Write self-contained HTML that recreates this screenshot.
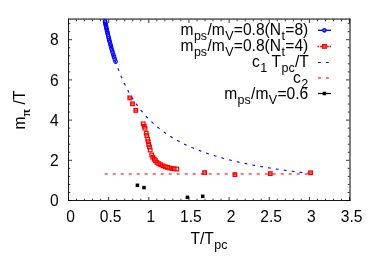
<!DOCTYPE html>
<html><head><meta charset="utf-8"><style>
html,body{margin:0;padding:0;background:#fff;}
svg{display:block;font-family:"Liberation Sans",sans-serif;}
svg{will-change:transform;}
</style></head><body>
<svg width="382" height="267" viewBox="0 0 382 267">
<rect width="382" height="267" fill="#fff"/>

<path d="M68.50 200.5v-3.5M68.50 19.5v3.5M76.53 200.5v-1.8M76.53 19.5v1.8M84.56 200.5v-1.8M84.56 19.5v1.8M92.59 200.5v-1.8M92.59 19.5v1.8M100.62 200.5v-1.8M100.62 19.5v1.8M108.65 200.5v-3.5M108.65 19.5v3.5M116.68 200.5v-1.8M116.68 19.5v1.8M124.71 200.5v-1.8M124.71 19.5v1.8M132.74 200.5v-1.8M132.74 19.5v1.8M140.77 200.5v-1.8M140.77 19.5v1.8M148.80 200.5v-3.5M148.80 19.5v3.5M156.83 200.5v-1.8M156.83 19.5v1.8M164.86 200.5v-1.8M164.86 19.5v1.8M172.89 200.5v-1.8M172.89 19.5v1.8M180.92 200.5v-1.8M180.92 19.5v1.8M188.95 200.5v-3.5M188.95 19.5v3.5M196.98 200.5v-1.8M196.98 19.5v1.8M205.01 200.5v-1.8M205.01 19.5v1.8M213.04 200.5v-1.8M213.04 19.5v1.8M221.07 200.5v-1.8M221.07 19.5v1.8M229.10 200.5v-3.5M229.10 19.5v3.5M237.13 200.5v-1.8M237.13 19.5v1.8M245.16 200.5v-1.8M245.16 19.5v1.8M253.19 200.5v-1.8M253.19 19.5v1.8M261.22 200.5v-1.8M261.22 19.5v1.8M269.25 200.5v-3.5M269.25 19.5v3.5M277.28 200.5v-1.8M277.28 19.5v1.8M285.31 200.5v-1.8M285.31 19.5v1.8M293.34 200.5v-1.8M293.34 19.5v1.8M301.37 200.5v-1.8M301.37 19.5v1.8M309.40 200.5v-3.5M309.40 19.5v3.5M317.43 200.5v-1.8M317.43 19.5v1.8M325.46 200.5v-1.8M325.46 19.5v1.8M333.49 200.5v-1.8M333.49 19.5v1.8M341.52 200.5v-1.8M341.52 19.5v1.8M349.55 200.5v-3.5M349.55 19.5v3.5M68.5 200.50h3.5M349.5 200.50h-3.5M68.5 192.46h1.8M349.5 192.46h-1.8M68.5 184.42h1.8M349.5 184.42h-1.8M68.5 176.38h1.8M349.5 176.38h-1.8M68.5 168.34h1.8M349.5 168.34h-1.8M68.5 160.30h3.5M349.5 160.30h-3.5M68.5 152.26h1.8M349.5 152.26h-1.8M68.5 144.22h1.8M349.5 144.22h-1.8M68.5 136.18h1.8M349.5 136.18h-1.8M68.5 128.14h1.8M349.5 128.14h-1.8M68.5 120.10h3.5M349.5 120.10h-3.5M68.5 112.06h1.8M349.5 112.06h-1.8M68.5 104.02h1.8M349.5 104.02h-1.8M68.5 95.98h1.8M349.5 95.98h-1.8M68.5 87.94h1.8M349.5 87.94h-1.8M68.5 79.90h3.5M349.5 79.90h-3.5M68.5 71.86h1.8M349.5 71.86h-1.8M68.5 63.82h1.8M349.5 63.82h-1.8M68.5 55.78h1.8M349.5 55.78h-1.8M68.5 47.74h1.8M349.5 47.74h-1.8M68.5 39.70h3.5M349.5 39.70h-3.5M68.5 31.66h1.8M349.5 31.66h-1.8M68.5 23.62h1.8M349.5 23.62h-1.8" stroke="#000" stroke-width="0.8" fill="none"/>
<path d="M68.5 18.6V200.5M68.0 200.5H350.4" stroke="#000" stroke-width="0.9" fill="none"/>
<path d="M68.0 19.05H350.5M350.0 18.6V201.0" stroke="#000" stroke-width="1.0" fill="none"/>
<text x="70.5" y="222" font-size="15.6" text-anchor="middle">0</text>
<text x="110.7" y="222" font-size="15.6" text-anchor="middle">0.5</text>
<text x="150.8" y="222" font-size="15.6" text-anchor="middle">1</text>
<text x="190.9" y="222" font-size="15.6" text-anchor="middle">1.5</text>
<text x="231.1" y="222" font-size="15.6" text-anchor="middle">2</text>
<text x="271.2" y="222" font-size="15.6" text-anchor="middle">2.5</text>
<text x="311.4" y="222" font-size="15.6" text-anchor="middle">3</text>
<text x="351.6" y="222" font-size="15.6" text-anchor="middle">3.5</text>
<text x="58.8" y="206.1" font-size="15.6" text-anchor="end">0</text>
<text x="58.8" y="165.9" font-size="15.6" text-anchor="end">2</text>
<text x="58.8" y="125.7" font-size="15.6" text-anchor="end">4</text>
<text x="58.8" y="85.5" font-size="15.6" text-anchor="end">6</text>
<text x="58.8" y="45.3" font-size="15.6" text-anchor="end">8</text>
<text x="209" y="243.5" font-size="15.6" text-anchor="middle">T/T<tspan font-size="12.5" dy="5.0" dx="0.45">pc</tspan></text>
<text transform="translate(25.3,110) rotate(-90)" font-size="15.6" text-anchor="middle">m<tspan font-size="13.5" dy="5.0" font-family="Liberation Serif" font-weight="bold">π</tspan><tspan dy="-5.0" dx="0.3"> /T</tspan></text>
<polyline points="104.63,19.60 105.15,22.13 105.66,24.58 106.17,26.97 106.68,29.30 107.19,31.57 107.71,33.77 108.22,35.92 108.73,38.01 109.24,40.06 109.75,42.05 110.27,43.99 110.78,45.88 111.29,47.73 111.80,49.54 112.31,51.30 112.83,53.03 113.34,54.71 113.85,56.36 114.36,57.97 114.87,59.54 115.39,61.08 115.90,62.58 116.41,64.06 116.92,65.50 117.43,66.91 117.94,68.30 118.46,69.65 118.97,70.98 119.48,72.28 119.99,73.55 120.50,74.80 121.02,76.03 121.53,77.23 122.04,78.41 122.55,79.56 123.06,80.70 123.58,81.81 124.09,82.91 124.60,83.98 125.11,85.03 125.62,86.07 126.14,87.08 126.65,88.08 127.16,89.06 127.67,90.03 128.18,90.97 128.69,91.91 129.21,92.82 129.72,93.72 130.23,94.61 130.74,95.48 131.25,96.33 131.77,97.18 132.28,98.01 132.79,98.82 133.30,99.63 133.81,100.42 134.33,101.20 134.84,101.96 135.35,102.72 135.86,103.46 136.37,104.19 136.89,104.91 137.40,105.62 137.91,106.32 138.42,107.01 138.93,107.69 139.45,108.36 139.96,109.02 140.47,109.67 140.98,110.31 141.49,110.95 142.00,111.57 142.52,112.18 143.03,112.79 143.54,113.39 144.05,113.98 144.56,114.56 145.08,115.14 145.59,115.70 146.10,116.26 146.61,116.81 147.12,117.36 147.64,117.90 148.15,118.43 148.66,118.95 149.17,119.47 149.68,119.98 150.20,120.49 150.71,120.98 151.22,121.48 151.73,121.96 152.24,122.44 152.75,122.92 153.27,123.38 153.78,123.85 154.29,124.30 154.80,124.76 155.31,125.20 155.83,125.64 156.34,126.08 156.85,126.51 157.36,126.94 157.87,127.36 158.39,127.78 158.90,128.19 159.41,128.60 159.92,129.00 160.43,129.40 160.95,129.79 161.46,130.18 161.97,130.56 162.48,130.95 162.99,131.32 163.50,131.69 164.02,132.06 164.53,132.43 165.04,132.79 165.55,133.15 166.06,133.50 166.58,133.85 167.09,134.20 167.60,134.54 168.11,134.88 168.62,135.21 169.14,135.54 169.65,135.87 170.16,136.20 170.67,136.52 171.18,136.84 171.70,137.16 172.21,137.47 172.72,137.78 173.23,138.08 173.74,138.39 174.26,138.69 174.77,138.99 175.28,139.28 175.79,139.57 176.30,139.86 176.81,140.15 177.33,140.43 177.84,140.71 178.35,140.99 178.86,141.27 179.37,141.54 179.89,141.81 180.40,142.08 180.91,142.35 181.42,142.61 181.93,142.87 182.45,143.13 182.96,143.39 183.47,143.64 183.98,143.90 184.49,144.14 185.01,144.39 185.52,144.64 186.03,144.88 186.54,145.12 187.05,145.36 187.56,145.60 188.08,145.83 188.59,146.07 189.10,146.30 189.61,146.53 190.12,146.75 190.64,146.98 191.15,147.20 191.66,147.42 192.17,147.64 192.68,147.86 193.20,148.08 193.71,148.29 194.22,148.50 194.73,148.72 195.24,148.92 195.76,149.13 196.27,149.34 196.78,149.54 197.29,149.74 197.80,149.95 198.31,150.15 198.83,150.34 199.34,150.54 199.85,150.73 200.36,150.93 200.87,151.12 201.39,151.31 201.90,151.50 202.41,151.69 202.92,151.87 203.43,152.06 203.95,152.24 204.46,152.42 204.97,152.60 205.48,152.78 205.99,152.96 206.51,153.13 207.02,153.31 207.53,153.48 208.04,153.65 208.55,153.83 209.07,154.00 209.58,154.16 210.09,154.33 210.60,154.50 211.11,154.66 211.62,154.83 212.14,154.99 212.65,155.15 213.16,155.31 213.67,155.47 214.18,155.63 214.70,155.79 215.21,155.94 215.72,156.10 216.23,156.25 216.74,156.40 217.26,156.56 217.77,156.71 218.28,156.86 218.79,157.01 219.30,157.15 219.82,157.30 220.33,157.45 220.84,157.59 221.35,157.73 221.86,157.88 222.37,158.02 222.89,158.16 223.40,158.30 223.91,158.44 224.42,158.58 224.93,158.71 225.45,158.85 225.96,158.99 226.47,159.12 226.98,159.25 227.49,159.39 228.01,159.52 228.52,159.65 229.03,159.78 229.54,159.91 230.05,160.04 230.57,160.17 231.08,160.29 231.59,160.42 232.10,160.54 232.61,160.67 233.13,160.79 233.64,160.92 234.15,161.04 234.66,161.16 235.17,161.28 235.68,161.40 236.20,161.52 236.71,161.64 237.22,161.76 237.73,161.87 238.24,161.99 238.76,162.11 239.27,162.22 239.78,162.34 240.29,162.45 240.80,162.56 241.32,162.67 241.83,162.79 242.34,162.90 242.85,163.01 243.36,163.12 243.88,163.23 244.39,163.34 244.90,163.44 245.41,163.55 245.92,163.66 246.43,163.76 246.95,163.87 247.46,163.97 247.97,164.08 248.48,164.18 248.99,164.28 249.51,164.39 250.02,164.49 250.53,164.59 251.04,164.69 251.55,164.79 252.07,164.89 252.58,164.99 253.09,165.09 253.60,165.19 254.11,165.28 254.63,165.38 255.14,165.48 255.65,165.57 256.16,165.67 256.67,165.76 257.18,165.86 257.70,165.95 258.21,166.04 258.72,166.14 259.23,166.23 259.74,166.32 260.26,166.41 260.77,166.50 261.28,166.59 261.79,166.68 262.30,166.77 262.82,166.86 263.33,166.95 263.84,167.04 264.35,167.12 264.86,167.21 265.38,167.30 265.89,167.38 266.40,167.47 266.91,167.55 267.42,167.64 267.94,167.72 268.45,167.81 268.96,167.89 269.47,167.97 269.98,168.06 270.49,168.14 271.01,168.22 271.52,168.30 272.03,168.38 272.54,168.46 273.05,168.54 273.57,168.62 274.08,168.70 274.59,168.78 275.10,168.86 275.61,168.94 276.13,169.02 276.64,169.09 277.15,169.17 277.66,169.25 278.17,169.32 278.69,169.40 279.20,169.48 279.71,169.55 280.22,169.63 280.73,169.70 281.24,169.77 281.76,169.85 282.27,169.92 282.78,169.99 283.29,170.07 283.80,170.14 284.32,170.21 284.83,170.28 285.34,170.35 285.85,170.43 286.36,170.50 286.88,170.57 287.39,170.64 287.90,170.71 288.41,170.78 288.92,170.84 289.44,170.91 289.95,170.98 290.46,171.05 290.97,171.12 291.48,171.18 291.99,171.25 292.51,171.32 293.02,171.39 293.53,171.45 294.04,171.52 294.55,171.58 295.07,171.65 295.58,171.71 296.09,171.78 296.60,171.84 297.11,171.91 297.63,171.97 298.14,172.03 298.65,172.10 299.16,172.16 299.67,172.22 300.19,172.29 300.70,172.35 301.21,172.41 301.72,172.47 302.23,172.53 302.75,172.59 303.26,172.65 303.77,172.72 304.28,172.78 304.79,172.84 305.30,172.90 305.82,172.96 306.33,173.01 306.84,173.07 307.35,173.13 307.86,173.19 308.38,173.25 308.89,173.31 309.40,173.37" fill="none" stroke="#0000ff" stroke-width="1.1" stroke-dasharray="2.8 5.15" stroke-dashoffset="5.1"/>
<path d="M104.7 174.0H309.40" stroke="#ff0000" stroke-width="1.4" stroke-dasharray="3 5" fill="none" opacity="0.72"/>
<circle cx="105.00" cy="21.39" r="1.8" fill="none" stroke="#0000ff" stroke-width="1.1"/>
<circle cx="105.26" cy="22.68" r="1.8" fill="none" stroke="#0000ff" stroke-width="1.1"/>
<circle cx="105.53" cy="24.00" r="1.8" fill="none" stroke="#0000ff" stroke-width="1.1"/>
<circle cx="105.83" cy="25.37" r="1.8" fill="none" stroke="#0000ff" stroke-width="1.1"/>
<circle cx="106.13" cy="26.79" r="1.8" fill="none" stroke="#0000ff" stroke-width="1.1"/>
<circle cx="106.46" cy="28.29" r="1.8" fill="none" stroke="#0000ff" stroke-width="1.1"/>
<circle cx="106.80" cy="29.83" r="1.8" fill="none" stroke="#0000ff" stroke-width="1.1"/>
<circle cx="107.16" cy="31.42" r="1.8" fill="none" stroke="#0000ff" stroke-width="1.1"/>
<circle cx="107.54" cy="33.07" r="1.8" fill="none" stroke="#0000ff" stroke-width="1.1"/>
<circle cx="107.94" cy="34.77" r="1.8" fill="none" stroke="#0000ff" stroke-width="1.1"/>
<circle cx="108.36" cy="36.53" r="1.8" fill="none" stroke="#0000ff" stroke-width="1.1"/>
<circle cx="108.81" cy="38.33" r="1.8" fill="none" stroke="#0000ff" stroke-width="1.1"/>
<circle cx="109.28" cy="40.20" r="1.8" fill="none" stroke="#0000ff" stroke-width="1.1"/>
<circle cx="109.77" cy="42.11" r="1.8" fill="none" stroke="#0000ff" stroke-width="1.1"/>
<circle cx="110.29" cy="44.07" r="1.8" fill="none" stroke="#0000ff" stroke-width="1.1"/>
<circle cx="110.83" cy="46.08" r="1.8" fill="none" stroke="#0000ff" stroke-width="1.1"/>
<circle cx="111.41" cy="48.15" r="1.8" fill="none" stroke="#0000ff" stroke-width="1.1"/>
<circle cx="112.01" cy="50.27" r="1.8" fill="none" stroke="#0000ff" stroke-width="1.1"/>
<circle cx="112.65" cy="52.43" r="1.8" fill="none" stroke="#0000ff" stroke-width="1.1"/>
<circle cx="113.32" cy="54.66" r="1.8" fill="none" stroke="#0000ff" stroke-width="1.1"/>
<circle cx="114.02" cy="56.91" r="1.8" fill="none" stroke="#0000ff" stroke-width="1.1"/>
<circle cx="114.77" cy="59.24" r="1.8" fill="none" stroke="#0000ff" stroke-width="1.1"/>
<circle cx="115.56" cy="61.58" r="1.8" fill="none" stroke="#0000ff" stroke-width="1.1"/>
<rect x="128.00" y="96.10" width="3.6" height="3.6" fill="#ff0000" fill-opacity="0.4" stroke="#ff0000" stroke-width="1.25"/>
<path d="M128.30 97.90h3" stroke="#ff0000" stroke-width="1" opacity="0.7"/>
<rect x="130.70" y="102.00" width="3.6" height="3.6" fill="#ff0000" fill-opacity="0.4" stroke="#ff0000" stroke-width="1.25"/>
<path d="M131.00 103.80h3" stroke="#ff0000" stroke-width="1" opacity="0.7"/>
<rect x="134.00" y="108.60" width="3.6" height="3.6" fill="#ff0000" fill-opacity="0.4" stroke="#ff0000" stroke-width="1.25"/>
<path d="M134.30 110.40h3" stroke="#ff0000" stroke-width="1" opacity="0.7"/>
<rect x="141.40" y="122.00" width="3.6" height="3.6" fill="none" stroke="#ff0000" stroke-width="1.2"/>
<rect x="142.40" y="124.40" width="3.6" height="3.6" fill="none" stroke="#ff0000" stroke-width="1.2"/>
<rect x="143.20" y="126.40" width="3.6" height="3.6" fill="none" stroke="#ff0000" stroke-width="1.2"/>
<rect x="144.40" y="131.40" width="3.6" height="3.6" fill="none" stroke="#ff0000" stroke-width="1.2"/>
<rect x="145.00" y="133.70" width="3.6" height="3.6" fill="none" stroke="#ff0000" stroke-width="1.2"/>
<rect x="145.90" y="137.40" width="3.6" height="3.6" fill="none" stroke="#ff0000" stroke-width="1.2"/>
<rect x="146.40" y="139.80" width="3.6" height="3.6" fill="none" stroke="#ff0000" stroke-width="1.2"/>
<rect x="146.90" y="142.70" width="3.6" height="3.6" fill="none" stroke="#ff0000" stroke-width="1.2"/>
<rect x="147.70" y="145.20" width="3.6" height="3.6" fill="none" stroke="#ff0000" stroke-width="1.2"/>
<rect x="148.40" y="148.20" width="3.6" height="3.6" fill="none" stroke="#ff0000" stroke-width="1.2"/>
<rect x="149.90" y="153.10" width="3.6" height="3.6" fill="none" stroke="#ff0000" stroke-width="1.2"/>
<rect x="151.00" y="155.40" width="3.6" height="3.6" fill="none" stroke="#ff0000" stroke-width="1.2"/>
<rect x="152.50" y="157.40" width="3.6" height="3.6" fill="none" stroke="#ff0000" stroke-width="1.2"/>
<rect x="153.70" y="158.90" width="3.6" height="3.6" fill="none" stroke="#ff0000" stroke-width="1.2"/>
<rect x="155.20" y="160.70" width="3.6" height="3.6" fill="none" stroke="#ff0000" stroke-width="1.2"/>
<rect x="157.00" y="161.90" width="3.6" height="3.6" fill="none" stroke="#ff0000" stroke-width="1.2"/>
<rect x="158.90" y="162.90" width="3.6" height="3.6" fill="none" stroke="#ff0000" stroke-width="1.2"/>
<rect x="161.20" y="164.00" width="3.6" height="3.6" fill="none" stroke="#ff0000" stroke-width="1.2"/>
<rect x="163.40" y="164.90" width="3.6" height="3.6" fill="none" stroke="#ff0000" stroke-width="1.2"/>
<rect x="165.70" y="165.60" width="3.6" height="3.6" fill="none" stroke="#ff0000" stroke-width="1.2"/>
<rect x="167.90" y="166.20" width="3.6" height="3.6" fill="none" stroke="#ff0000" stroke-width="1.2"/>
<rect x="170.20" y="166.70" width="3.6" height="3.6" fill="none" stroke="#ff0000" stroke-width="1.2"/>
<rect x="172.40" y="167.00" width="3.6" height="3.6" fill="none" stroke="#ff0000" stroke-width="1.2"/>
<rect x="175.00" y="167.20" width="3.6" height="3.6" fill="none" stroke="#ff0000" stroke-width="1.2"/>
<rect x="202.80" y="170.80" width="3.6" height="3.6" fill="#ff0000" fill-opacity="0.4" stroke="#ff0000" stroke-width="1.25"/>
<path d="M203.10 172.60h3" stroke="#ff0000" stroke-width="1" opacity="0.7"/>
<rect x="233.10" y="172.80" width="3.6" height="3.6" fill="#ff0000" fill-opacity="0.4" stroke="#ff0000" stroke-width="1.25"/>
<path d="M233.40 174.60h3" stroke="#ff0000" stroke-width="1" opacity="0.7"/>
<rect x="268.50" y="171.80" width="3.6" height="3.6" fill="#ff0000" fill-opacity="0.4" stroke="#ff0000" stroke-width="1.25"/>
<path d="M268.80 173.60h3" stroke="#ff0000" stroke-width="1" opacity="0.7"/>
<rect x="308.80" y="171.00" width="3.6" height="3.6" fill="#ff0000" fill-opacity="0.4" stroke="#ff0000" stroke-width="1.25"/>
<path d="M309.10 172.80h3" stroke="#ff0000" stroke-width="1" opacity="0.7"/>
<rect x="135.65" y="183.55" width="3.5" height="3.5" fill="#000"/>
<rect x="142.25" y="185.85" width="3.5" height="3.5" fill="#000"/>
<rect x="185.65" y="195.55" width="3.5" height="3.5" fill="#000"/>
<rect x="200.95" y="194.55" width="3.5" height="3.5" fill="#000"/>
<text x="308.3" y="34.70" font-size="15.6" text-anchor="end">m<tspan font-size="12.5" dy="5.0" dx="0.45">ps</tspan><tspan dy="-5.0" dx="0.3">/m</tspan><tspan font-size="12.5" dy="5.0" dx="0.45">V</tspan><tspan dy="-5.0" dx="0.3">=0.8(N</tspan><tspan font-size="12.5" dy="5.0" dx="0.45">t</tspan><tspan dy="-5.0" dx="0.3">=8)</tspan></text>
<text x="308.3" y="50.70" font-size="15.6" text-anchor="end">m<tspan font-size="12.5" dy="5.0" dx="0.45">ps</tspan><tspan dy="-5.0" dx="0.3">/m</tspan><tspan font-size="12.5" dy="5.0" dx="0.45">V</tspan><tspan dy="-5.0" dx="0.3">=0.8(N</tspan><tspan font-size="12.5" dy="5.0" dx="0.45">t</tspan><tspan dy="-5.0" dx="0.3">=4)</tspan></text>
<text x="308.8" y="66.70" font-size="15.6" text-anchor="end">c<tspan font-size="12.5" dy="5.0" dx="0.45">1</tspan><tspan dy="-5.0" dx="0.3"> T</tspan><tspan font-size="12.5" dy="5.0" dx="0.45">pc</tspan><tspan dy="-5.0" dx="0.3">/T</tspan></text>
<text x="308.3" y="82.70" font-size="15.6" text-anchor="end">c<tspan font-size="12.5" dy="5.0" dx="0.45">2</tspan></text>
<text x="308.3" y="98.70" font-size="15.6" text-anchor="end">m<tspan font-size="12.5" dy="5.0" dx="0.45">ps</tspan><tspan dy="-5.0" dx="0.3">/m</tspan><tspan font-size="12.5" dy="5.0" dx="0.45">V</tspan><tspan dy="-5.0" dx="0.3">=0.6</tspan></text>
<path d="M317.9 30.3H331.0" stroke="#0000ff" stroke-width="1.35"/><circle cx="324.4" cy="30.3" r="1.65" fill="#9aa0ff" stroke="#0000ff" stroke-width="1.35"/><path d="M323.4 30.3h2" stroke="#0000ff" stroke-width="1" opacity="0.6"/>
<path d="M317.6 46.4H319.2M320 46.4H322.5M326.3 46.4H328.8M329.5 46.4H331.1" stroke="#ff0000" stroke-width="1.45"/><rect x="322.65" y="44.65" width="3.5" height="3.5" fill="#ff0000" fill-opacity="0.55" stroke="#ff0000" stroke-width="1.4"/>
<path d="M317.9 62.5H331.0" stroke="#0000ff" stroke-width="1.1" stroke-dasharray="2.8 5.2"/>
<path d="M317.9 78H331.0" stroke="#ff0000" stroke-width="1.4" stroke-dasharray="3 5" opacity="0.72"/>
<path d="M317.9 93.5H331.0" stroke="#000" stroke-width="1.2"/><rect x="322.65" y="91.75" width="3.5" height="3.5" fill="#000"/>
</svg></body></html>
